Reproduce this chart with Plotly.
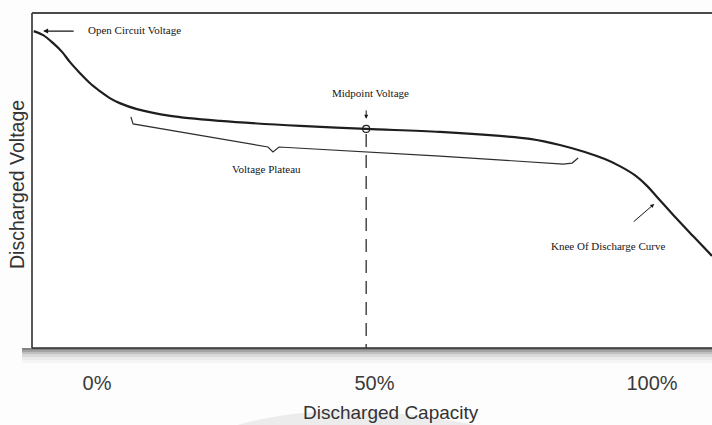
import plotly.graph_objects as go

# ---- data (capacity in %, voltage in arbitrary units 0-100) ----
capacity_pct = [-11.4, -9.7, -7.9, -6.3, -4.9, -3.1, -1.3, 0.5, 2.3, 4.1, 7.2, 13.2, 22.2, 36.6,
                48.5, 61.8, 72.6, 78.0, 83.4, 87.9, 91.5, 94.2, 96.9, 99.1, 100.9, 102.7,
                104.5, 107.4, 110.8]
voltage = [94.6, 93.4, 91.0, 88.4, 85.4, 82.1, 79.1, 76.7, 74.6, 73.1, 71.3, 69.3, 67.8, 66.3,
           65.4, 64.5, 63.3, 62.4, 60.6, 58.5, 56.4, 54.3, 51.6, 48.4, 45.1, 41.8,
           38.5, 33.4, 27.5]

plateau_x = [6.1, 6.5, 30.8, 31.7, 32.8, 61.8, 84.0, 85.6, 86.7]
plateau_y = [69.0, 66.9, 60.0, 58.5, 60.0, 57.3, 54.9, 55.2, 56.7]

midpoint_x = 48.5
midpoint_y = 65.4

tick_vals = [0, 50, 100]
tick_text = ["0%", "50%", "100%"]

x_title = "Discharged Capacity"
y_title = "Discharged Voltage"

ink = "#1e1e1e"
serif = "Liberation Serif, Times New Roman, serif"
sans = "Liberation Sans, Arial, sans-serif"

fig = go.Figure()

# discharge curve
fig.add_trace(go.Scatter(x=capacity_pct, y=voltage, mode="lines",
                         line=dict(color=ink, width=2.2, shape="spline", smoothing=1.0),
                         hoverinfo="skip"))
# plateau bracket
fig.add_trace(go.Scatter(x=plateau_x, y=plateau_y, mode="lines",
                         line=dict(color="#2e2e2e", width=1.2),
                         hoverinfo="skip"))
# midpoint dashed drop line
fig.add_trace(go.Scatter(x=[midpoint_x, midpoint_x], y=[midpoint_y - 1.5, 0], mode="lines",
                         line=dict(color="#2e2e2e", width=1.3, dash="13px,8px"),
                         hoverinfo="skip"))
# midpoint marker
fig.add_trace(go.Scatter(x=[midpoint_x], y=[midpoint_y], mode="markers",
                         marker=dict(symbol="circle-open", size=7, color=ink,
                                     line=dict(width=1.2, color=ink)),
                         hoverinfo="skip"))

ann_font = dict(family=serif, size=11, color="#151515")
annotations = [
    # labels
    dict(x=-2.0, y=94.9, text="Open Circuit Voltage", showarrow=False,
         xanchor="left", yanchor="middle", font=ann_font),
    dict(x=49.2, y=76.1, text="Midpoint Voltage", showarrow=False,
         xanchor="center", yanchor="middle", font=ann_font),
    dict(x=30.6, y=53.4, text="Voltage Plateau", showarrow=False,
         xanchor="center", yanchor="middle", font=ann_font),
    dict(x=92.1, y=30.4, text="Knee Of Discharge Curve", showarrow=False,
         xanchor="center", yanchor="middle", font=ann_font),
    # arrows
    dict(x=-9.7, y=94.6, ax=32, ay=0, text="", showarrow=True, arrowhead=2,
         arrowsize=0.9, arrowwidth=1.1, arrowcolor="#151515"),
    dict(x=midpoint_x, y=68.4, ax=0, ay=-10, text="", showarrow=True, arrowhead=2,
         arrowsize=0.8, arrowwidth=1, arrowcolor="#151515"),
    dict(x=100.4, y=43.0, ax=-22, ay=19, text="", showarrow=True, arrowhead=2,
         arrowsize=0.8, arrowwidth=1, arrowcolor="#151515"),
    # axis titles
    dict(xref="paper", yref="paper", x=(391 - 32) / 680, y=-65 / 335, text=x_title,
         showarrow=False, xanchor="center", yanchor="middle",
         font=dict(family=sans, size=19, color="#333333")),
    dict(xref="paper", yref="paper", x=-15 / 680, y=(348 - 185) / 335, text=y_title,
         showarrow=False, textangle=-90, xanchor="center", yanchor="middle",
         font=dict(family=sans, size=19.5, color="#333333")),
]

shapes = []
# faint swoosh under the axis title
shapes.append(dict(type="path", xref="paper", yref="paper",
                   path="M %f %f Q %f %f %f %f Z" % ((228 - 32) / 680, -80 / 335,
                                                     (330 - 32) / 680, -46 / 335,
                                                     (490 - 32) / 680, -80 / 335),
                   fillcolor="#ececec", line=dict(width=0), layer="below"))
# shadow under bottom axis
shadow = [(0, 2, 0.75), (2, 4, 0.55), (4, 6, 0.38), (6, 9, 0.22), (9, 12, 0.11), (12, 15, 0.05)]
for a, b, op in shadow:
    shapes.append(dict(type="rect", xref="paper", yref="paper",
                       x0=-10 / 680, x1=1.0, y0=-b / 335, y1=-a / 335,
                       fillcolor="#5a5a5a", opacity=op, line=dict(width=0), layer="below"))
# frame lines: left, top, bottom
shapes.append(dict(type="line", xref="paper", yref="paper", x0=0, x1=0, y0=0, y1=1,
                   line=dict(color="#2e2e2e", width=1.6)))
shapes.append(dict(type="line", xref="paper", yref="paper", x0=0, x1=1, y0=1, y1=1,
                   line=dict(color="#4a4a4a", width=2)))
shapes.append(dict(type="line", xref="paper", yref="paper", x0=0, x1=1, y0=0, y1=0,
                   line=dict(color="#2e2e2e", width=1.6)))

fig.update_layout(
    width=712, height=425,
    margin=dict(l=32, r=0, t=13, b=77),
    paper_bgcolor="#fdfdfd", plot_bgcolor="#ffffff",
    showlegend=False,
    annotations=annotations,
    shapes=shapes,
    xaxis=dict(range=[(32 - 97) / 5.55, (712 - 97) / 5.55], tickvals=tick_vals,
               ticktext=tick_text, showgrid=False, zeroline=False, showline=False,
               ticks="", ticklabelstandoff=21,
               tickfont=dict(family=sans, size=20, color="#3a3a3a")),
    yaxis=dict(range=[0, 100], showticklabels=False, showgrid=False, zeroline=False,
               showline=False, ticks=""),
)

fig.write_html("out.html", config={"displayModeBar": False},
               post_script="document.body.style.margin='0px';")
